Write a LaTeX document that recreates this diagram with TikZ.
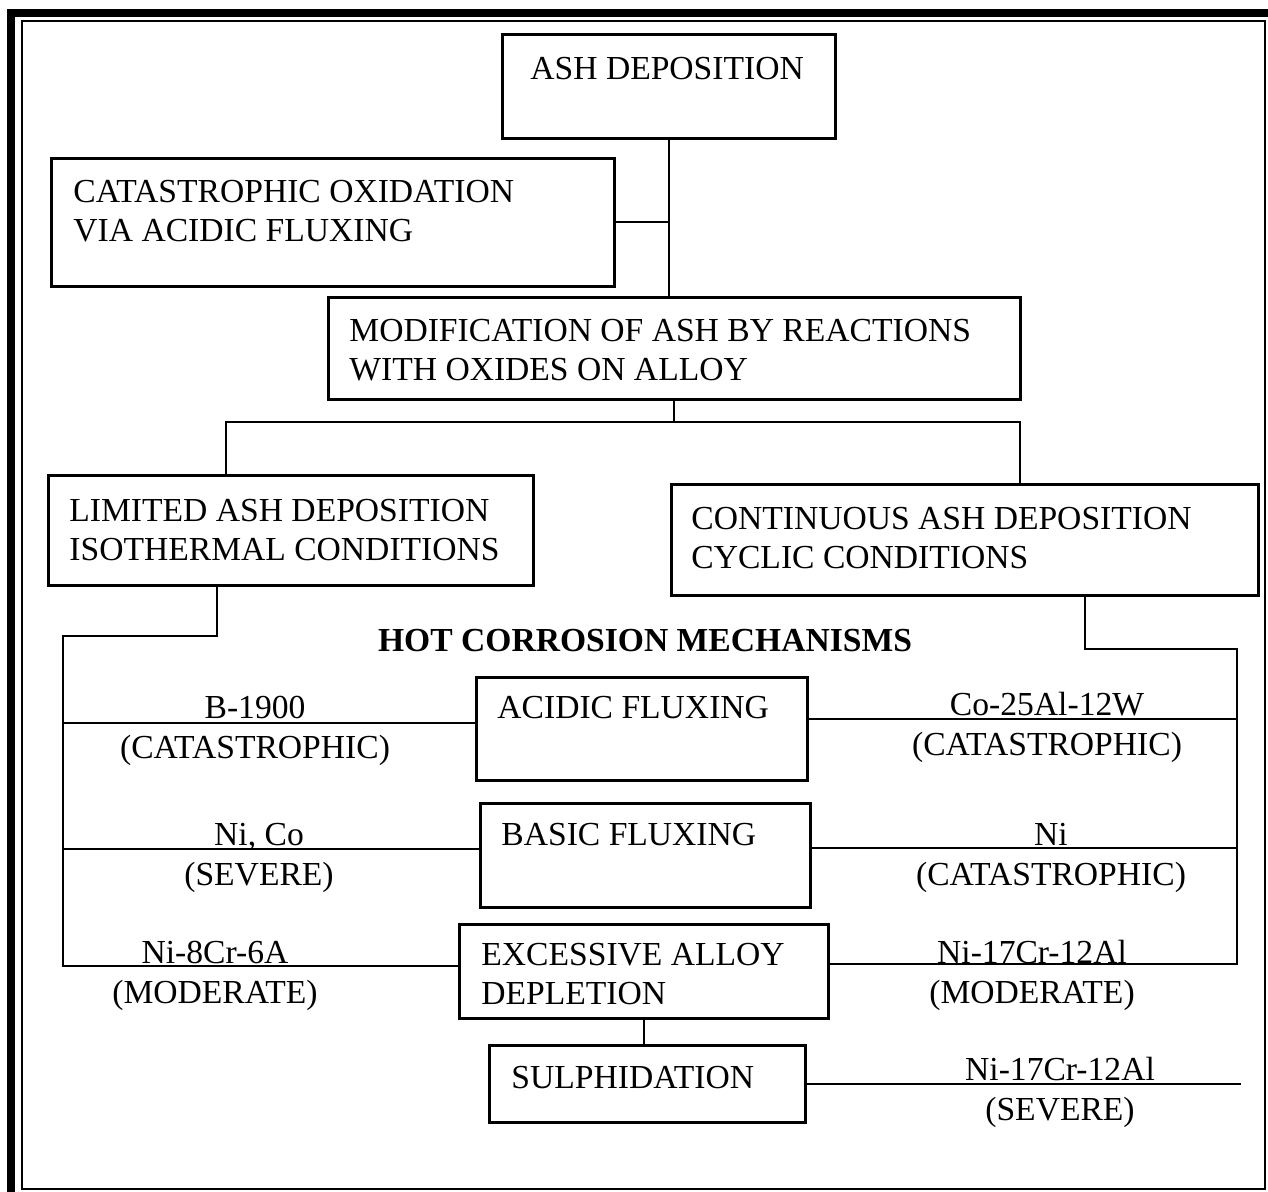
\documentclass[tikz,border=0pt]{standalone}
\usepackage{fontspec}
\setmainfont{Liberation Serif}
\begin{document}
\begin{tikzpicture}[x=0.5pt,y=-0.5pt,
    box/.style={draw, line width=1.3pt, anchor=north west, inner sep=0pt},
    txt/.style={anchor=base west, align=left, inner sep=0pt, font=\fontsize{16.8}{19.5}\selectfont},
    lab/.style={anchor=base, inner sep=0pt, font=\fontsize{16.8}{19.5}\selectfont},
    link/.style={line width=0.9pt}]
  \useasboundingbox (0,0) rectangle (1268,1192);
  \clip (0,0) rectangle (1268,1192);

  % frame
  \draw[line width=3.6pt] (11,13) rectangle (1300,1220);
  \draw[line width=1pt] (22,21) rectangle (1265,1189);

  % boxes
  \node[box, minimum width=166.5pt, minimum height=52pt] (ash) at (501,33) {};
  \node[box, minimum width=281.5pt, minimum height=64pt] (cat) at (50,157) {};
  \node[box, minimum width=346pt, minimum height=51pt] (mod) at (327,296) {};
  \node[box, minimum width=242.5pt, minimum height=55pt] (lim) at (47,474) {};
  \node[box, minimum width=293.5pt, minimum height=55.5pt] (cont) at (670,483) {};
  \node[box, minimum width=165.5pt, minimum height=51.5pt] (acid) at (475,676) {};
  \node[box, minimum width=165pt, minimum height=52pt] (basic) at (479,802) {};
  \node[box, minimum width=184.5pt, minimum height=47pt] (dep) at (458,923) {};
  \node[box, minimum width=158pt, minimum height=38.5pt] (sul) at (488,1044) {};

  % box texts (base = last line)
  \node[txt] (ashT) at (530,80) {ASH DEPOSITION};
  \node[txt] (catT) at (73,242) {CATASTROPHIC OXIDATION\\VIA ACIDIC FLUXING};
  \node[txt] (modT) at (349,380) {MODIFICATION OF ASH BY REACTIONS\\WITH OXIDES ON ALLOY};
  \node[txt] (limT) at (69,560) {LIMITED ASH DEPOSITION\\ISOTHERMAL CONDITIONS};
  \node[txt] (contT) at (691,568) {CONTINUOUS ASH DEPOSITION\\CYCLIC CONDITIONS};
  \node[txt] (acidT) at (497,718) {ACIDIC FLUXING};
  \node[txt] (basicT) at (501,845) {BASIC FLUXING};
  \node[txt] (depT) at (481,1004) {EXCESSIVE ALLOY\\DEPLETION};
  \node[txt] (sulT) at (511,1088) {SULPHIDATION};
  \node[lab, font=\fontsize{16.8}{19.5}\selectfont\bfseries] (hot) at (645,651) {HOT CORROSION MECHANISMS};

  % junctions
  \coordinate (jl) at (226,422);
  \coordinate (jr) at (1020,422);
  \coordinate (tl) at (217,636);
  \coordinate (busL) at (63,636);
  \coordinate (tr) at (1085,649);
  \coordinate (busR) at (1237,649);
  \coordinate (endS) at (1241,1081);
  \coordinate (acidW) at ([yshift=3pt]acid.west);
  \coordinate (acidE) at ([yshift=5pt]acid.east);
  \coordinate (basicW) at ([yshift=3pt]basic.west);
  \coordinate (basicE) at ([yshift=3.5pt]basic.east);
  \coordinate (depW) at ([yshift=2.5pt]dep.west);
  \coordinate (depE) at ([yshift=3.5pt]dep.east);

  % connectors
  \draw[link] (ash.south) -- (ash.south |- mod.north);
  \draw[link] (cat.east) -- (cat.east -| ash.south);
  \draw[link] (mod.south) -- (mod.south |- jl);
  \draw[link] (lim.north -| jl) -- (jl) -- (jr) -- (cont.north -| jr);
  \draw[link] (lim.south -| tl) -- (tl) -- (busL) -- (busL |- depW) -- (depW);
  \draw[link] (cont.south -| tr) -- (tr) -- (busR) -- (busR |- depE) -- (depE);
  \draw[link] (busL |- acidW) -- (acidW);
  \draw[link] (busL |- basicW) -- (basicW);
  \draw[link] (acidE) -- (acidE -| busR);
  \draw[link] (basicE) -- (basicE -| busR);
  \draw[link] (dep.south) -- (dep.south |- sul.north);
  \draw[link] (sul.east) -- (sul.east -| endS);

  % alloy labels
  \foreach \n/\x/\y/\a/\b in {l1/255/718/B-1900/(CATASTROPHIC),
                              r1/1047/715/Co-25Al-12W/(CATASTROPHIC),
                              l2/259/845/{Ni, Co}/(SEVERE),
                              r2/1051/845/Ni/(CATASTROPHIC),
                              l3/215/963/Ni-8Cr-6A/(MODERATE),
                              r3/1032/963/Ni-17Cr-12Al/(MODERATE),
                              r4/1060/1080/Ni-17Cr-12Al/(SEVERE)}
    {
      \node[lab] (\n a) at (\x,\y) {\a};
      \node[lab] (\n b) at (\x,\y+40) {\b};
    }
\end{tikzpicture}
\end{document}
